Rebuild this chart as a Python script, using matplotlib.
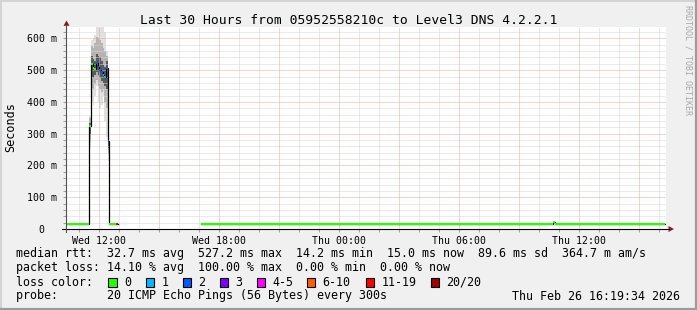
import numpy as np
import matplotlib
matplotlib.use("Agg")
import matplotlib.pyplot as plt
from matplotlib.lines import Line2D
from matplotlib.patches import Rectangle, Polygon

W, H = 697, 310
plt.rcParams["font.family"] = "DejaVu Sans Mono"

# ---- data: time in hours since Wed 00:00, values in ms ----
t_start = 10 + 19 / 60 + 34 / 3600      # Wed 10:19:34
t_end = t_start + 30                    # Thu 16:19:34

# median rtt steps (each value holds until the next time)
med_t = [t_start, 11.50, 11.583, 11.667, 11.75, 11.833, 11.917, 12.0, 12.083,
         12.167, 12.25, 12.333, 12.417, 12.50, 12.833, 12.917, 17.10, 34.70,
         34.80, 40.28]
med_v = [15, 323, 521, 507, 505, 524, 509, 499, 495, 486, 480, 508, 278, 15,
         15, np.nan, 15, 22, 15, np.nan]
med_loss = [0, 0, 0, 0, 0, 2, 2, 2, 2, 1, 1, 2, 2, 0, 6, -1, 0, 0, 0, -1]

# smoke (ping spread) during the spike, 11:30 .. 12:30
smoke_t = [11.50, 11.583, 11.667, 11.75, 11.833, 11.917, 12.0, 12.083,
           12.167, 12.25, 12.333, 12.417, 12.50]
smoke_lo = [255, 400, 390, 420, 450, 400, 380, 390, 420, 340, 290, 215]
smoke_mlo = [275, 445, 440, 455, 470, 450, 440, 430, 440, 400, 380, 235]
smoke_dlo = [300, 480, 475, 485, 495, 485, 475, 465, 460, 450, 440, 255]
smoke_dhi = [335, 545, 535, 530, 550, 545, 540, 530, 515, 510, 530, 300]
smoke_mhi = [350, 575, 570, 585, 605, 600, 595, 585, 570, 560, 545, 320]
smoke_hi = [355, 595, 600, 610, 635, 635, 635, 635, 635, 620, 560, 350]

loss_colors = ["#26ff00", "#00b8ff", "#0059ff", "#7e00ff", "#ff00ff",
               "#ff5e00", "#ff0000", "#a10000"]
loss_labels = ["0", "1", "2", "3", "4-5", "6-10", "11-19", "20/20"]

xtick_pos = [12, 18, 24, 30, 36]
xtick_lab = ["Wed 12:00", "Wed 18:00", "Thu 00:00", "Thu 06:00", "Thu 12:00"]
ytick_pos = [0, 100, 200, 300, 400, 500, 600]
ytick_lab = ["0  ", "100 m", "200 m", "300 m", "400 m", "500 m", "600 m"]


def fx(x):
    return x / W


def fy(y):
    return 1 - y / H


fig = plt.figure(figsize=(W / 100, H / 100), dpi=100, facecolor="#f0f0f0")
L, R, T, B = 65.8, 665.8, 27.3, 229.0
ax = fig.add_axes([fx(L), fy(B), (R - L) / W, (B - T) / H])
ax.set_facecolor("white")
ax.set_xlim(t_start, t_end)
ax.set_ylim(0, 635)
for s in ax.spines.values():
    s.set_visible(False)

# smoke
st = np.array(smoke_t)
ext = lambda a: np.append(a, a[-1])
ax.fill_between(st, ext(smoke_lo), ext(smoke_hi), step="post", color="#e0e0e0", lw=0, zorder=1)
ax.fill_between(st, ext(smoke_mlo), ext(smoke_mhi), step="post", color="#b4b4b4", lw=0, zorder=1.1)
ax.fill_between(st, ext(smoke_dlo), ext(smoke_dhi), step="post", color="#5a5a5a", lw=0, zorder=1.2)

# grid (drawn over the smoke, like rrdtool)
dots = (0, (1, 1))
hours = np.arange(11, 41)
ax.vlines([h for h in hours if h % 3], 0, 635, colors="#d6d6d6", lw=0.72, linestyles=dots, zorder=2)
ax.vlines([h for h in hours if h % 3 == 0], 0, 635, colors="#eaa8a8", lw=0.72, linestyles=dots, zorder=2.1)
ax.hlines([v for v in range(20, 640, 20) if v % 100], t_start, t_end, colors="#d6d6d6", lw=0.72, linestyles=dots, zorder=2)
ax.hlines(range(100, 700, 100), t_start, t_end, colors="#eaa8a8", lw=0.72, linestyles=dots, zorder=2.1)

# median line
t = np.array(med_t)
v = np.array(med_v, float)
ax.plot(t, v, drawstyle="steps-post", color="black", lw=0.9, zorder=3)
seg = [i for i in range(len(t) - 1) if med_loss[i] >= 0]
ax.hlines(v[seg], t[seg], t[np.array(seg) + 1], colors=[loss_colors[med_loss[i]] for i in seg],
          lw=1.5, zorder=4)

# ticks and labels
ax.set_xticks(xtick_pos, xtick_lab)
ax.set_xticks(hours, minor=True)
ax.set_yticks(ytick_pos, ytick_lab)
ax.set_yticks(range(20, 640, 20), minor=True)
ax.tick_params(which="both", length=2, width=0.75, color="#a0a0a0", direction="out")
ax.tick_params(axis="x", which="major", labelsize=7.15, pad=3)
ax.tick_params(axis="y", which="major", labelsize=7.15, pad=4)

# axes lines and arrows
fig.add_artist(Line2D([fx(62), fx(669)], [fy(229), fy(229)], color="black", lw=0.8))
fig.add_artist(Line2D([fx(66), fx(66)], [fy(232), fy(25)], color="#505050", lw=0.8))
fig.add_artist(Polygon([[fx(63.5), fy(25.8)], [fx(69.5), fy(25.8)], [fx(66.5), fy(20.5)]],
                       closed=True, color="#8b1a1a", lw=0))
fig.add_artist(Polygon([[fx(668.5), fy(226)], [fx(668.5), fy(232)], [fx(674), fy(229)]],
                       closed=True, color="#8b1a1a", lw=0))

# texts
fig.text(fx(348.5), fy(24), "Last 30 Hours from 05952558210c to Level3 DNS 4.2.2.1",
         ha="center", va="baseline", fontsize=9.4)
fig.text(fx(11), fy(127), "Seconds", rotation=90, ha="center", va="center", fontsize=8.45)
fig.text(fx(688), fy(5), "RRDTOOL / TOBI OETIKER", rotation=270, ha="center", va="top",
         fontsize=6, color="#a8a8a8")

leg = 8.4
fig.text(fx(16), fy(257.5), "median rtt:  32.7 ms avg  527.2 ms max  14.2 ms min  "
         "15.0 ms now  89.6 ms sd  364.7 m am/s", va="baseline", fontsize=leg)
fig.text(fx(16), fy(271.5), "packet loss: 14.10 % avg  100.00 % max  0.00 % min  0.00 % now",
         va="baseline", fontsize=leg)
fig.text(fx(16), fy(285.5), "loss color:", va="baseline", fontsize=leg)
fig.text(fx(16), fy(299.5), "probe:       20 ICMP Echo Pings (56 Bytes) every 300s",
         va="baseline", fontsize=leg)
fig.text(fx(680), fy(299.5), "Thu Feb 26 16:19:34 2026", ha="right", va="baseline", fontsize=leg)

box_x = [108.3, 145.7, 182.7, 219.7, 256.7, 306.7, 365.7, 430.7]
for bx, c, lab in zip(box_x, loss_colors, loss_labels):
    fig.add_artist(Rectangle((fx(bx), fy(286.6)), 8.3 / W, 8.3 / H, facecolor=c,
                             edgecolor="black", lw=0.8))
    fig.text(fx(bx + 15.7), fy(285.5), lab, va="baseline", fontsize=leg)

# 3d-ish frame
fig.add_artist(Line2D([0, 1], [fy(0.5), fy(0.5)], color="#d4d4d4", lw=1.4))
fig.add_artist(Line2D([fx(0.5), fx(0.5)], [0, 1], color="#d4d4d4", lw=1.4))
fig.add_artist(Line2D([0, 1], [fy(309), fy(309)], color="#9c9c9c", lw=1.6))
fig.add_artist(Line2D([fx(696), fx(696)], [0, 1], color="#9c9c9c", lw=1.6))

fig.savefig("out.png", dpi=100, facecolor=fig.get_facecolor())
